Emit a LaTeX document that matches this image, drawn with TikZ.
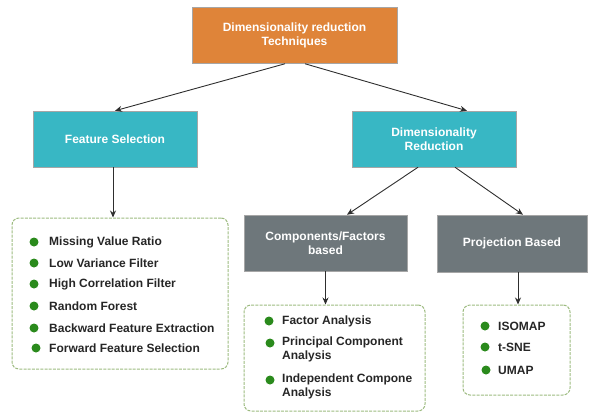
\documentclass[tikz,border=0pt]{standalone}
\usepackage{fontspec}
\setmainfont{Liberation Sans}
\usetikzlibrary{arrows.meta}
\definecolor{orangebox}{HTML}{DF8439}
\definecolor{tealbox}{HTML}{38B7C4}
\definecolor{graybox}{HTML}{6E777B}
\definecolor{dashgreen}{HTML}{9DBB80}
\definecolor{bulletgreen}{HTML}{2A8A1C}
\definecolor{arrowgray}{HTML}{2E2E2E}
\definecolor{listtext}{HTML}{262626}
\tikzset{
  x=1pt, y=-1pt,
  boxnode/.style={draw=black!35, line width=0.5pt, text=white, align=center,
    font=\fontsize{12}{14}\selectfont\bfseries, inner sep=2pt},
  listbox/.style={draw=dashgreen, line width=1pt, dash pattern=on 3pt off 1.2pt,
    rounded corners=7pt},
  arr/.style={draw=arrowgray, line width=0.9pt, -{Stealth[length=7pt,width=6pt]}},
  bul/.style={circle, fill=bulletgreen, minimum size=9pt, inner sep=0pt},
  item/.style={text=listtext, font=\fontsize{12}{13.5}\selectfont\bfseries, inner sep=0pt, align=left},
}
\begin{document}
\begin{tikzpicture}
\useasboundingbox (0,0) rectangle (589,413);
% main boxes
\node[boxnode, fill=orangebox, minimum width=205pt, minimum height=56pt] (top) at (294.5,35.5) {Dimensionality reduction\\Techniques};
\node[boxnode, fill=tealbox, minimum width=164pt, minimum height=56pt] (fs) at (115,139) {Feature Selection};
\node[boxnode, fill=tealbox, minimum width=164pt, minimum height=56pt] (dr) at (434,139) {Dimensionality\\Reduction};
\node[boxnode, fill=graybox, minimum width=163pt, minimum height=56pt] (cf) at (325.5,243) {Components/Factors\\based};
\node[boxnode, fill=graybox, minimum width=150pt, minimum height=57pt] (pb) at (512,243.5) {Projection Based};
% list boxes
\node[listbox, minimum width=216pt, minimum height=151pt] (l1) at (120,293.5) {};
\node[listbox, minimum width=181pt, minimum height=106pt] (l2) at (334.5,358) {};
\node[listbox, minimum width=107pt, minimum height=90pt] (l3) at (516.5,350) {};
% connectors
\draw[arr] ([xshift=-9.5pt]top.south) -- (fs.north);
\draw[arr] ([xshift=10.5pt]top.south) -- ([xshift=33pt]dr.north);
\draw[arr] ([xshift=-16pt]dr.south) -- ([xshift=21.5pt]cf.north);
\draw[arr] ([xshift=21pt]dr.south) -- ([xshift=11pt]pb.north);
\draw[arr] ([xshift=-2pt]fs.south) -- ([xshift=-2pt]fs.south |- l1.north);
\draw[arr] (cf.south) -- (cf.south |- l2.north);
\draw[arr] ([xshift=6pt]pb.south) -- ([xshift=6pt]pb.south |- l3.north);
% left list
\node[bul] (b11) at (34,242) {};
\node[item, anchor=west] (t11) at (49,242) {Missing Value Ratio};
\node[bul] (b12) at (34,263) {};
\node[item, anchor=west] (t12) at (49,263) {Low Variance Filter};
\node[bul] (b13) at (34,284) {};
\node[item, anchor=west] (t13) at (49,284) {High Correlation Filter};
\node[bul] (b14) at (34,306) {};
\node[item, anchor=west] (t14) at (49,306) {Random Forest};
\node[bul] (b15) at (34,328) {};
\node[item, anchor=west] (t15) at (49,328) {Backward Feature Extraction};
\node[bul] (b16) at (36,348) {};
\node[item, anchor=west] (t16) at (49,348) {Forward Feature Selection};
% middle list
\node[bul] (b21) at (269,321) {};
\node[item, anchor=west] (t21) at (282,321) {Factor Analysis};
\node[bul] (b22) at (270,343) {};
\node[item, anchor=west] (t22) at (282,349.5) {Principal Component\\Analysis};
\node[bul] (b23) at (270,380) {};
\node[item, anchor=west] (t23) at (282,386.5) {Independent Compone\\Analysis};
% right list
\node[bul] (b31) at (485,326) {};
\node[item, anchor=west] (t31) at (498,326) {ISOMAP};
\node[bul] (b32) at (485,347) {};
\node[item, anchor=west] (t32) at (498,347) {t-SNE};
\node[bul] (b33) at (486,370) {};
\node[item, anchor=west] (t33) at (498,370) {UMAP};
\end{tikzpicture}
\end{document}
